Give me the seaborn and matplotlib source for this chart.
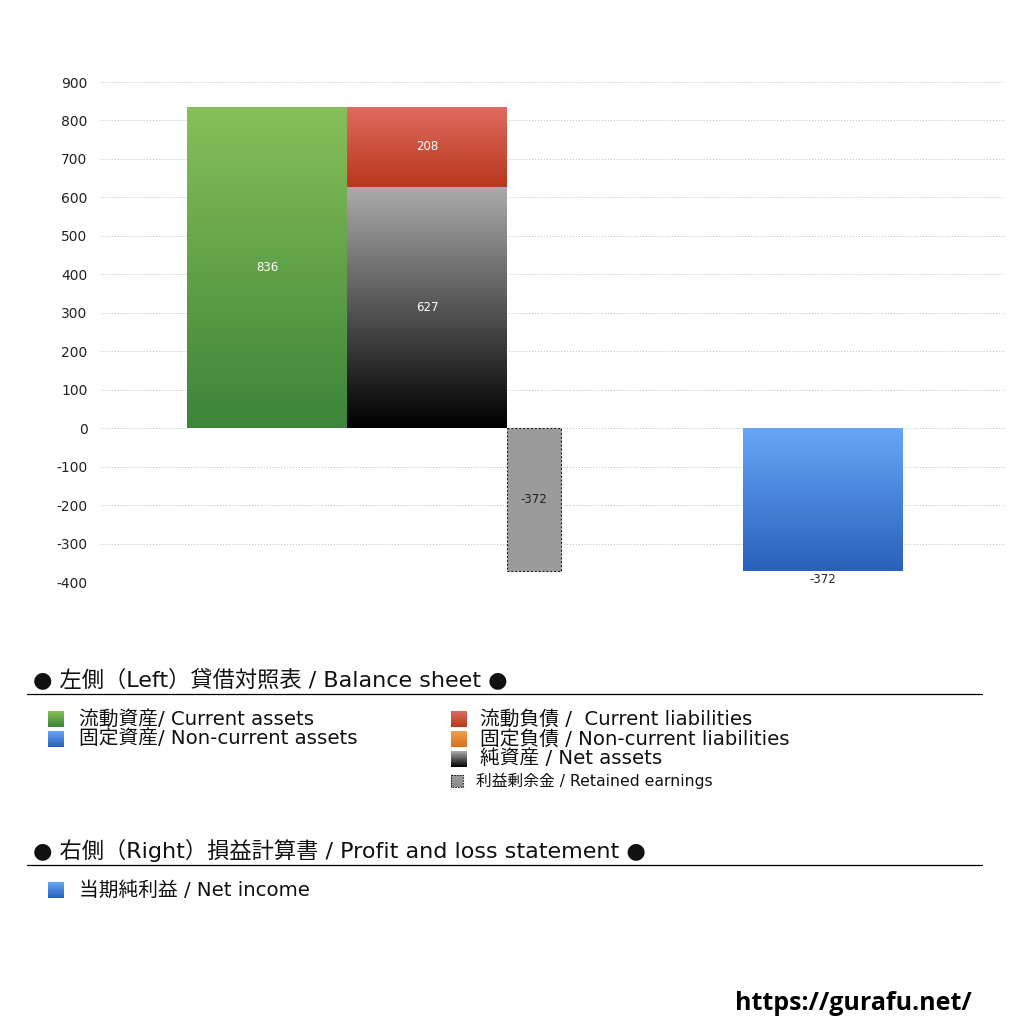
import numpy as np
import matplotlib
matplotlib.use("Agg")
import matplotlib.pyplot as plt
import seaborn as sns
from matplotlib.colors import LinearSegmentedColormap
from matplotlib.patches import Rectangle

# values
current_assets = 836
current_liabilities = 208
net_assets = 627
retained_earnings = -372
net_income = -372

yticks = [900, 800, 700, 600, 500, 400, 300, 200, 100, 0, -100, -200, -300, -400]

bs_header = "● 左側（Left）貸借対照表 / Balance sheet ●"
pl_header = "● 右側（Right）損益計算書 / Profit and loss statement ●"
bs_left_items = ["流動資産/ Current assets", "固定資産/ Non-current assets"]
bs_right_items = ["流動負債 /  Current liabilities", "固定負債 / Non-current liabilities", "純資産 / Net assets"]
retained_label = "利益剰余金 / Retained earnings"
pl_items = ["当期純利益 / Net income"]

GREEN = ("#87c058", "#3c8439")
BLUE = ("#67a7f6", "#2a60bc")
RED = ("#de6b5f", "#b9371d")
ORANGE = ("#f0a050", "#d8701c")
BLACK = ("#ababab", "#000000")

sns.set_theme(style="white")
plt.rcParams['font.family'] = ['DejaVu Sans', 'Noto Sans CJK JP']

fig = plt.figure(figsize=(10.24, 10.24), dpi=100)
ax = fig.add_axes([100 / 1024, 1 - 582 / 1024, 905 / 1024, 500 / 1024])


def fill_gradient(axis, patch, top, bottom):
    x0, y0 = patch.get_x(), patch.get_y()
    w, h = patch.get_width(), patch.get_height()
    ylo, yhi = min(y0, y0 + h), max(y0, y0 + h)
    cmap = LinearSegmentedColormap.from_list("g", [bottom, top])
    grad = np.linspace(0, 1, 256).reshape(-1, 1)
    im = axis.imshow(grad, cmap=cmap, extent=(x0, x0 + w, ylo, yhi),
                     origin="lower", aspect="auto", zorder=2)
    im.set_clip_path(patch)


# bar layout (x in axis units, 0..905)
b1 = ax.bar(87, current_assets, width=160, align="edge", color="none", zorder=2)
b2 = ax.bar(247, net_assets, width=160, align="edge", color="none", zorder=2)
b3 = ax.bar(247, current_liabilities, bottom=net_assets, width=160, align="edge",
            color="none", zorder=2)
b4 = ax.bar(407, retained_earnings, width=54, align="edge", color="#9b9b9b",
            edgecolor="#222222", linestyle=(0, (2, 1.5)), linewidth=0.8, zorder=3)
b5 = ax.bar(643, net_income, width=160, align="edge", color="none", zorder=2)

fill_gradient(ax, b1.patches[0], *GREEN)
fill_gradient(ax, b2.patches[0], *BLACK)
fill_gradient(ax, b3.patches[0], *RED)
fill_gradient(ax, b5.patches[0], *BLUE)

lab = dict(fontsize=8.5, ha="center", va="center", zorder=5)
ax.text(167, current_assets / 2, str(current_assets), color="white", **lab)
ax.text(327, net_assets / 2, str(net_assets), color="white", **lab)
ax.text(327, net_assets + current_liabilities / 2, str(current_liabilities), color="white", **lab)
ax.text(434, retained_earnings / 2, str(retained_earnings), color="#222222", **lab)
ax.text(723, net_income - 21, str(net_income), color="#222222", **lab)

ax.set_xlim(0, 905)
ax.set_ylim(-400, 900)
ax.set_yticks(yticks)
ax.set_yticklabels([str(t) for t in yticks])
ax.set_xticks([])
ax.tick_params(axis="y", length=0, pad=9, labelsize=10, labelcolor="#222222")
ax.yaxis.grid(True, linestyle=(0, (1, 2)), color="#bbbbbb", linewidth=0.7)
ax.set_axisbelow(True)
sns.despine(ax=ax, left=True, bottom=True)

# legend area drawn in pixel coordinates
lg = fig.add_axes([0, 0, 1, 1])
lg.set_xlim(0, 1024)
lg.set_ylim(1024, 0)
lg.axis("off")


def square(x, y, size, colors, dashed=False):
    cmap = LinearSegmentedColormap.from_list("s", [colors[1], colors[0]])
    grad = np.linspace(0, 1, 64).reshape(-1, 1)
    lg.imshow(grad, cmap=cmap, extent=(x, x + size, y + size, y), origin="lower",
              aspect="auto", zorder=2)
    if dashed:
        lg.add_patch(Rectangle((x, y), size, size, facecolor="none", edgecolor="#222222",
                               linestyle=(0, (1.5, 1)), linewidth=0.8, zorder=3))


lg.text(33, 679, bs_header, fontsize=16, va="center", ha="left", color="#111111")
lg.plot([27, 982], [694, 694], color="black", linewidth=0.9)

left_colors = [GREEN, BLUE]
for i, (label, col) in enumerate(zip(bs_left_items, left_colors)):
    y = 719 + 20 * i
    square(48, y - 8, 16, col)
    lg.text(79, y, label, fontsize=14.2, va="center", ha="left", color="#111111")

right_colors = [RED, ORANGE, BLACK]
for i, (label, col) in enumerate(zip(bs_right_items, right_colors)):
    y = 719 + 20 * i
    square(451, y - 8, 16, col)
    lg.text(480, y, label, fontsize=14.2, va="center", ha="left", color="#111111")

square(451, 775, 12, ("#a0a0a0", "#8a8a8a"), dashed=True)
lg.text(476, 781, retained_label, fontsize=11.3, va="center", ha="left", color="#111111")

lg.text(33, 850, pl_header, fontsize=16, va="center", ha="left", color="#111111")
lg.plot([27, 982], [865, 865], color="black", linewidth=0.9)

for i, label in enumerate(pl_items):
    y = 890 + 20 * i
    square(48, y - 8, 16, BLUE)
    lg.text(79, y, label, fontsize=14.2, va="center", ha="left", color="#111111")

lg.text(972, 1004, "https://gurafu.net/", fontsize=18, fontweight="bold",
        family=["Open Sans", "DejaVu Sans"], va="center", ha="right", color="black")

fig.savefig("out.png", dpi=100)
